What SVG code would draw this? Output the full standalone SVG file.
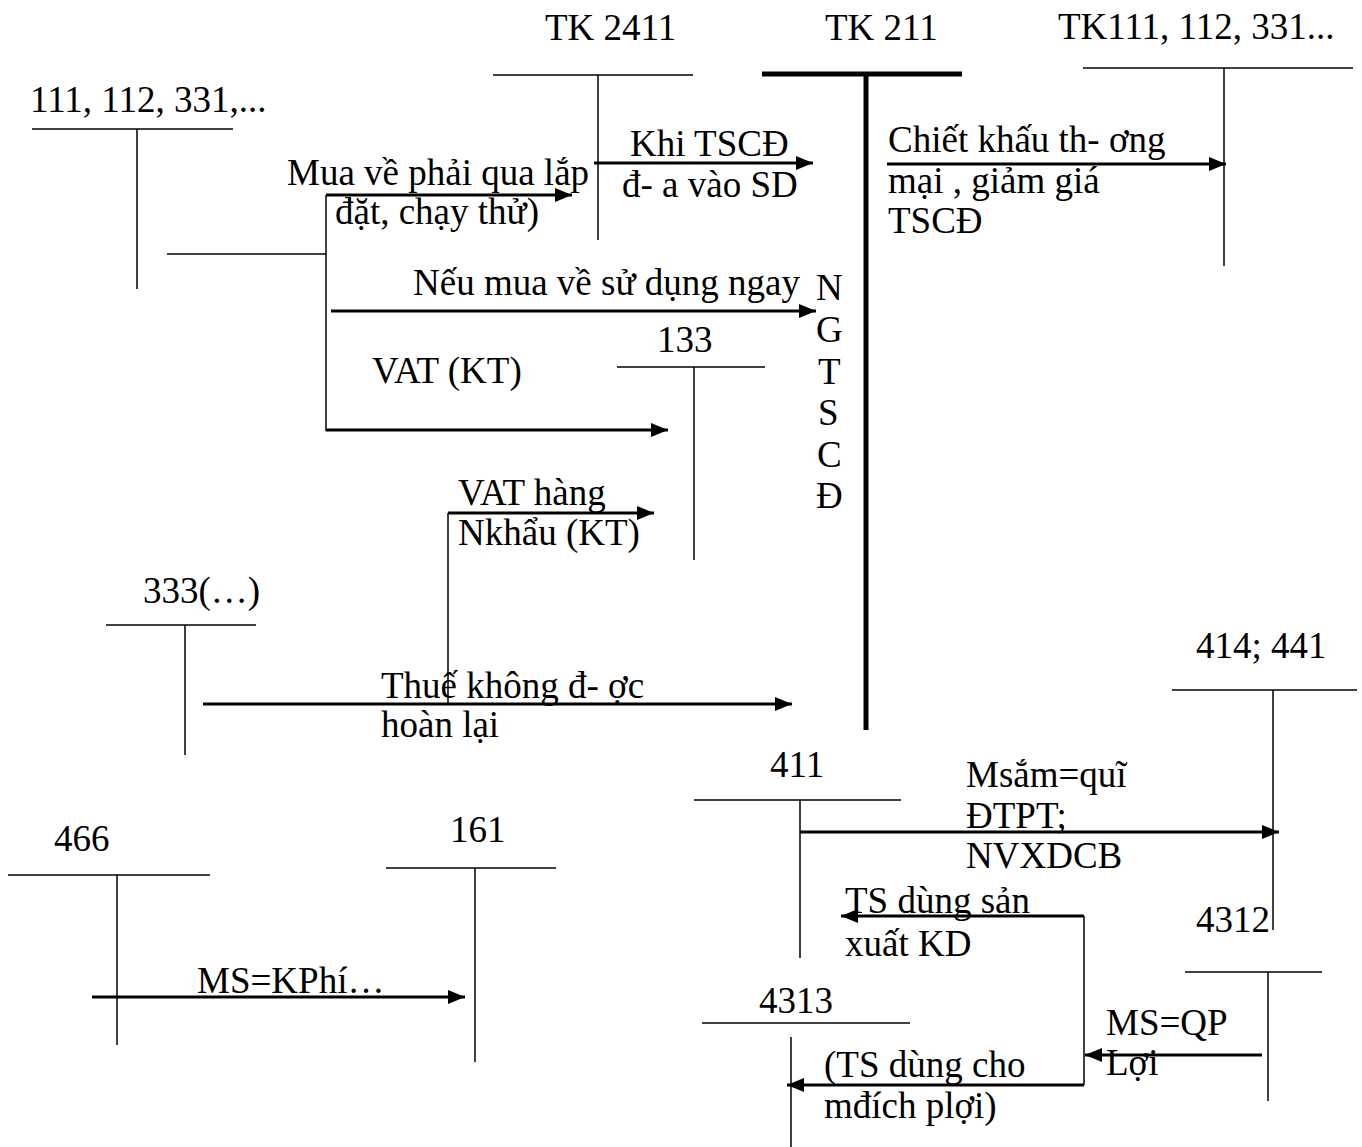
<svg xmlns="http://www.w3.org/2000/svg" width="1362" height="1147" viewBox="0 0 1362 1147">
<style>
text{font-family:"Liberation Serif","Times New Roman",serif;font-size:37px;fill:#000}
.t{stroke:#000;stroke-width:1.5;fill:none}
.k{stroke:#000;stroke-width:5;fill:none}
.a{stroke:#000;stroke-width:3;fill:none;marker-end:url(#ah)}
</style>
<defs>
<marker id="ah" markerUnits="userSpaceOnUse" markerWidth="18" markerHeight="16" refX="17" refY="7" orient="auto">
<path d="M0,0 L17,7 L0,14 Z" fill="#000"/>
</marker>
</defs>
<rect width="1362" height="1147" fill="#fff"/>

<g id="acc111">
<text x="30" y="112">111, 112, 331,...</text>
<line class="t" x1="32" y1="129" x2="233" y2="129"/>
<line class="t" x1="137" y1="129" x2="137" y2="289"/>
</g>
<g id="tk2411">
<text x="545" y="40">TK 2411</text>
<line class="t" x1="493" y1="75" x2="693" y2="75"/>
<line class="t" x1="598" y1="75" x2="598" y2="240"/>
</g>
<g id="tk211">
<text x="825" y="40">TK 211</text>
<line class="k" x1="762" y1="74" x2="962" y2="74"/>
<line class="k" x1="866" y1="74" x2="866" y2="730"/>
<text x="816" y="300">N</text>
<text x="816" y="342">G</text>
<text x="818" y="384">T</text>
<text x="818" y="425">S</text>
<text x="817" y="467">C</text>
<text x="816" y="508">Đ</text>
</g>
<g id="tk111r">
<text x="1058" y="39">TK111, 112, 331...</text>
<line class="t" x1="1083" y1="68" x2="1353" y2="68"/>
<line class="t" x1="1224" y1="68" x2="1224" y2="266"/>
</g>
<g id="acc133">
<text x="657" y="352">133</text>
<line class="t" x1="617" y1="367" x2="765" y2="367"/>
<line class="t" x1="694" y1="367" x2="694" y2="560"/>
</g>
<g id="acc333">
<text x="143" y="603">333(…)</text>
<line class="t" x1="106" y1="625" x2="256" y2="625"/>
<line class="t" x1="185" y1="625" x2="185" y2="755"/>
</g>
<g id="acc414">
<text x="1196" y="658">414; 441</text>
<line class="t" x1="1172" y1="690" x2="1357" y2="690"/>
<line class="t" x1="1273" y1="690" x2="1273" y2="930"/>
</g>
<g id="acc411">
<text x="770" y="777">411</text>
<line class="t" x1="694" y1="800" x2="901" y2="800"/>
<line class="t" x1="800" y1="800" x2="800" y2="958"/>
</g>
<g id="acc4312">
<text x="1196" y="932">4312</text>
<line class="t" x1="1185" y1="972" x2="1322" y2="972"/>
<line class="t" x1="1268" y1="972" x2="1268" y2="1101"/>
</g>
<g id="acc4313">
<text x="759" y="1013">4313</text>
<line class="t" x1="702" y1="1023" x2="910" y2="1023"/>
<line class="t" x1="791" y1="1037" x2="791" y2="1147"/>
</g>
<g id="acc466">
<text x="54" y="851">466</text>
<line class="t" x1="8" y1="875" x2="210" y2="875"/>
<line class="t" x1="117" y1="875" x2="117" y2="1045"/>
</g>
<g id="acc161">
<text x="450" y="842">161</text>
<line class="t" x1="386" y1="868" x2="556" y2="868"/>
<line class="t" x1="475" y1="868" x2="475" y2="1062"/>
</g>

<g id="connectors">
<line class="t" x1="167" y1="254" x2="326" y2="254"/>
<line class="t" x1="326" y1="195" x2="326" y2="431"/>
<line class="a" x1="326" y1="195" x2="572" y2="195"/>
<line class="a" x1="331" y1="311" x2="816" y2="311"/>
<line class="a" x1="326" y1="430" x2="668" y2="430"/>
<line class="a" x1="594" y1="163" x2="813" y2="163"/>
<line class="a" x1="887" y1="164" x2="1226" y2="164"/>
<line class="t" x1="448" y1="513" x2="448" y2="704"/>
<line class="a" x1="448" y1="513" x2="654" y2="513"/>
<line class="a" x1="203" y1="704" x2="792" y2="704"/>
<line class="a" x1="800" y1="832" x2="1279" y2="832"/>
<line class="t" x1="1084" y1="916" x2="1084" y2="1085"/>
<line class="a" x1="1084" y1="916" x2="841" y2="916"/>
<line class="a" x1="1262" y1="1055" x2="1085" y2="1055"/>
<line class="a" x1="1084" y1="1085" x2="787" y2="1085"/>
<line class="a" x1="92" y1="997" x2="465" y2="997"/>
</g>

<g id="labels">
<text x="287" y="185">Mua về phải qua lắp</text>
<text x="335" y="224">đặt, chạy thử)</text>
<text x="630" y="156">Khi TSCĐ</text>
<text x="622" y="197">đ- a vào SD</text>
<text x="888" y="152">Chiết khấu th- ơng</text>
<text x="888" y="193">mại , giảm giá</text>
<text x="888" y="233">TSCĐ</text>
<text x="413" y="295">Nếu mua về sử dụng ngay</text>
<text x="372" y="383">VAT (KT)</text>
<text x="458" y="505">VAT hàng</text>
<text x="458" y="545">Nkhẩu (KT)</text>
<text x="381" y="698">Thuế không đ- ợc</text>
<text x="381" y="737">hoàn lại</text>
<text x="966" y="787">Msắm=quĩ</text>
<text x="966" y="828">ĐTPT;</text>
<text x="966" y="868">NVXDCB</text>
<text x="845" y="913">TS dùng sản</text>
<text x="845" y="956">xuất KD</text>
<text x="1106" y="1035">MS=QP</text>
<text x="1106" y="1075">Lợi</text>
<text x="824" y="1077">(TS dùng cho</text>
<text x="824" y="1118">mđích plợi)</text>
<text x="197" y="993">MS=KPhí…</text>
</g>
</svg>
